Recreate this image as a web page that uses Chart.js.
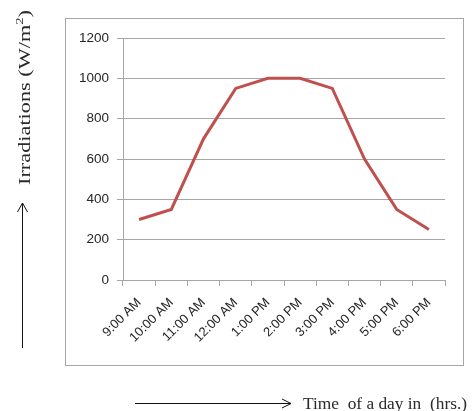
<!DOCTYPE html>
<html>
<head>
<meta charset="utf-8">
<script src="https://cdn.jsdelivr.net/npm/chart.js@4.4.0/dist/chart.umd.min.js"></script>
<style>
  html, body { margin: 0; padding: 0; background: #fff; }
  #wrap { position: relative; width: 475px; height: 411px; }
</style>
</head>
<body>
<div id="wrap"><canvas id="irrChart" width="475" height="411"></canvas></div>
<script>
// Chart data
const timeLabels = ['9:00 AM', '10:00 AM', '11:00 AM', '12:00 AM', '1:00 PM',
                    '2:00 PM', '3:00 PM', '4:00 PM', '5:00 PM', '6:00 PM'];
const irradiation = [300, 350, 700, 950, 1000, 1000, 950, 600, 350, 250];
const yTicks = [0, 200, 400, 600, 800, 1000, 1200];

const gridGray = '#a6a6a6';
const serif = '"Liberation Serif", "Times New Roman", serif';
const sans = '"Liberation Sans", Arial, sans-serif';

// Draws the caption stretched to a given length along its direction
function drawStretched(ctx, parts, x, y, length) {
    let total = 0;
    parts.forEach(p => {
        ctx.font = p.size + 'px ' + serif;
        p.w = ctx.measureText(p.text).width;
        total += p.w;
    });
    ctx.save();
    ctx.translate(x, y);
    ctx.scale(length / total, 1);
    let cx = 0;
    parts.forEach(p => {
        ctx.font = p.size + 'px ' + serif;
        ctx.fillText(p.text, cx, p.dy || 0);
        cx += p.w;
    });
    ctx.restore();
}

// Draws the outer frame, the axis captions and the arrows
const decorations = {
    id: 'decorations',
    beforeDraw(chart) {
        const ctx = chart.ctx;
        ctx.save();
        ctx.fillStyle = '#fff';
        ctx.fillRect(0, 0, chart.width, chart.height);
        ctx.strokeStyle = gridGray;
        ctx.lineWidth = 1;
        ctx.strokeRect(65.5, 18.5, 398, 347);
        ctx.restore();
    },
    afterDraw(chart) {
        const ctx = chart.ctx;
        ctx.save();
        ctx.fillStyle = '#2a2a2a';
        ctx.strokeStyle = '#111';
        ctx.lineWidth = 1;
        ctx.textAlign = 'left';
        ctx.textBaseline = 'alphabetic';

        // y caption, rotated
        ctx.save();
        ctx.translate(30, 185);
        ctx.rotate(-Math.PI / 2);
        drawStretched(ctx, [
            { text: 'Irradiations (W/m', size: 17 },
            { text: '2', size: 11, dy: -7 },
            { text: ')', size: 17 }
        ], 0, 0, 175);
        ctx.restore();

        // vertical arrow
        ctx.beginPath();
        ctx.moveTo(22.5, 348);
        ctx.lineTo(22.5, 203);
        ctx.moveTo(17.5, 212);
        ctx.lineTo(22.5, 203);
        ctx.lineTo(27.5, 212);
        ctx.stroke();

        // horizontal arrow
        ctx.beginPath();
        ctx.moveTo(135, 403.5);
        ctx.lineTo(291, 403.5);
        ctx.moveTo(282, 399);
        ctx.lineTo(291, 403.5);
        ctx.lineTo(282, 408);
        ctx.stroke();

        // x caption
        drawStretched(ctx, [{ text: 'Time  of a day in  (hrs.)', size: 17 }], 303, 409, 164);
        ctx.restore();
    }
};

const chart = new Chart(document.getElementById('irrChart'), {
    type: 'line',
    data: {
        labels: timeLabels,
        datasets: [{
            data: irradiation,
            borderColor: '#c0504d',
            borderWidth: 3,
            pointRadius: 0,
            tension: 0,
            fill: false
        }]
    },
    options: {
        responsive: false,
        animation: false,
        devicePixelRatio: 1,
        layout: { padding: { left: 0, right: 30, top: 38, bottom: 0 } },
        plugins: { legend: { display: false }, tooltip: { enabled: false } },
        scales: {
            x: {
                offset: true,
                afterFit: s => { s.height = 131; },
                grid: { offset: true, drawOnChartArea: false, drawTicks: true, tickLength: 6, color: gridGray },
                border: { color: gridGray },
                ticks: {
                    minRotation: 45, maxRotation: 45, autoSkip: false, padding: 9,
                    color: '#262626',
                    font: { family: sans, size: 13 }
                }
            },
            y: {
                min: 0, max: 1200,
                afterFit: s => { s.width = 123; },
                afterBuildTicks: s => { s.ticks = yTicks.map(v => ({ value: v })); },
                grid: { color: gridGray, tickLength: 6 },
                border: { color: gridGray },
                ticks: {
                    padding: 8, color: '#262626',
                    callback: v => String(v),
                    font: { family: sans, size: 13.5 }
                }
            }
        }
    },
    plugins: [decorations]
});
</script>
</body>
</html>
